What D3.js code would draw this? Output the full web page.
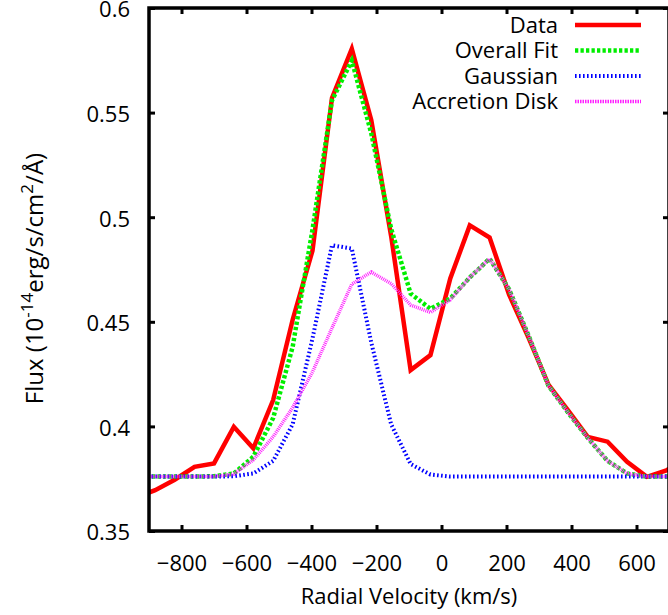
<!DOCTYPE html>
<html>
<head>
<meta charset="utf-8">
<script src="https://cdn.jsdelivr.net/npm/d3@7"></script>
<style>
  html, body { margin: 0; padding: 0; background: #fff; }
  svg { display: block; }
  text { font-family: "Open Sans", "DejaVu Sans", sans-serif; fill: #000; }
</style>
</head>
<body>
<svg id="chart" width="668" height="615"></svg>
<script>
// ---- data ----
const velocity = [-942, -881, -821, -760, -700, -639, -579, -518, -458, -397, -337, -276, -216, -155, -95, -34, 27, 87, 148, 208, 269, 329, 390, 450, 511, 571, 632, 692, 753];
const dataFlux = [0.366, 0.3695, 0.3745, 0.3807, 0.3823, 0.3998, 0.3895, 0.4126, 0.451, 0.484, 0.557, 0.5805, 0.5463, 0.491, 0.4269, 0.4341, 0.4707, 0.4961, 0.4903, 0.463, 0.442, 0.420, 0.4075, 0.395, 0.3927, 0.3831, 0.3759, 0.3790, 0.385];
const overallFit = [0.376, 0.376, 0.376, 0.376, 0.3762, 0.3775, 0.3855, 0.404, 0.438, 0.494, 0.5558, 0.5749, 0.540, 0.4945, 0.4635, 0.4562, 0.4611, 0.4712, 0.4802, 0.4655, 0.443, 0.4195, 0.4065, 0.3945, 0.3835, 0.3775, 0.376, 0.376, 0.376];
const gaussian = [0.376, 0.376, 0.376, 0.376, 0.376, 0.3762, 0.3775, 0.3835, 0.401, 0.442, 0.4866, 0.485, 0.44, 0.401, 0.382, 0.377, 0.376, 0.376, 0.376, 0.376, 0.376, 0.376, 0.376, 0.376, 0.376, 0.376, 0.376, 0.376, 0.376];
const accretionDisk = [0.376, 0.376, 0.376, 0.376, 0.3761, 0.3772, 0.384, 0.395, 0.409, 0.426, 0.447, 0.468, 0.4738, 0.4683, 0.458, 0.4545, 0.4605, 0.4712, 0.4802, 0.4655, 0.443, 0.4195, 0.4065, 0.3945, 0.3835, 0.3775, 0.376, 0.376, 0.376];
const xTicks = [-800, -600, -400, -200, 0, 200, 400, 600];
const yTicks = [0.35, 0.4, 0.45, 0.5, 0.55, 0.6];
const seriesNames = ["Data", "Overall Fit", "Gaussian", "Accretion Disk"];

// ---- layout ----
const svg = d3.select("#chart");
const L = 149, R = 669, T = 8, B = 531;
const x = d3.scaleLinear().domain([-900, 700]).range([L, R]);
const y = d3.scaleLinear().domain([0.35, 0.6]).range([B, T]);
const FS = 22;

const styles = [
  { color: "#ff0000", width: 4.5, dash: null },
  { color: "#00ee00", width: 4.5, dash: "3.3,2.2" },
  { color: "#0000ff", width: 4, dash: "1.6,2.4" },
  { color: "#ff22ff", width: 3.5, dash: "1,1" }
];
const legendDash = [null, "3.3,2.2", "1.6,2.4", "1.5,1"];
const series = [dataFlux, overallFit, gaussian, accretionDisk];

svg.append("clipPath").attr("id", "clip")
  .append("rect").attr("x", L).attr("y", T).attr("width", R - L).attr("height", B - T);

const line = d3.line().x(d => x(d[0])).y(d => y(d[1]));
const gLines = svg.append("g").attr("clip-path", "url(#clip)");
series.forEach((vals, i) => {
  const pts = velocity.map((v, j) => [v, vals[j]]);
  gLines.append("path")
    .datum(pts)
    .attr("d", line)
    .attr("fill", "none")
    .attr("stroke", styles[i].color)
    .attr("stroke-width", styles[i].width)
    .attr("stroke-dasharray", styles[i].dash)
    .attr("stroke-linejoin", "miter");
});

// ---- axes (ticks inward on all four sides) ----
const tk = 6;
const gB = svg.append("g").attr("transform", `translate(0,${B})`)
  .call(d3.axisBottom(x).tickValues(xTicks).tickSize(-tk).tickSizeOuter(0).tickPadding(24).tickFormat(d3.format("d")));
const gT = svg.append("g").attr("transform", `translate(0,${T})`)
  .call(d3.axisTop(x).tickValues(xTicks).tickSize(-tk).tickSizeOuter(0).tickFormat(""));
const gL = svg.append("g").attr("transform", `translate(${L},0)`)
  .call(d3.axisLeft(y).tickValues(yTicks).tickSize(-tk).tickSizeOuter(0).tickPadding(19).tickFormat(d => String(d)));
const gR = svg.append("g").attr("transform", `translate(${R},0)`)
  .call(d3.axisRight(y).tickValues(yTicks).tickSize(-tk).tickSizeOuter(0).tickFormat(""));
[gB, gT, gL, gR].forEach(g => {
  g.select(".domain").remove();
  g.selectAll(".tick line").attr("stroke", "#000").attr("stroke-width", 3);
  g.selectAll(".tick text").attr("font-size", FS).attr("font-family", "'Open Sans', sans-serif").attr("fill", "#000");
});
gL.selectAll(".tick text").attr("dy", "0.4em");
svg.append("rect").attr("x", L).attr("y", T).attr("width", R - L).attr("height", B - T)
  .attr("fill", "none").attr("stroke", "#000").attr("stroke-width", 3.5);

// ---- axis titles ----
svg.append("text")
  .attr("x", (L + R) / 2).attr("y", 604)
  .attr("text-anchor", "middle").attr("font-size", FS)
  .text("Radial Velocity (km/s)");

const yl = svg.append("text")
  .attr("transform", `translate(43,${(T + B) / 2 + 9}) rotate(-90)`)
  .attr("text-anchor", "middle").attr("font-size", 24);
yl.append("tspan").text("Flux (10");
yl.append("tspan").attr("font-size", 17).attr("dy", -10).text("-14");
yl.append("tspan").attr("dy", 10).text("erg/s/cm");
yl.append("tspan").attr("font-size", 17).attr("dy", -10).text("2");
yl.append("tspan").attr("dy", 10).text("/Å)");

// ---- legend ----
const legY = d3.scaleLinear().domain([0, 3]).range([25, 101.5]);
seriesNames.forEach((name, i) => {
  svg.append("text")
    .attr("x", 558).attr("y", legY(i)).attr("dy", "0.36em")
    .attr("text-anchor", "end").attr("font-size", FS)
    .text(name);
  svg.append("line")
    .attr("x1", 575).attr("x2", 641).attr("y1", legY(i)).attr("y2", legY(i))
    .attr("stroke", styles[i].color)
    .attr("stroke-width", styles[i].width)
    .attr("stroke-dasharray", legendDash[i]);
});
</script>
</body>
</html>
